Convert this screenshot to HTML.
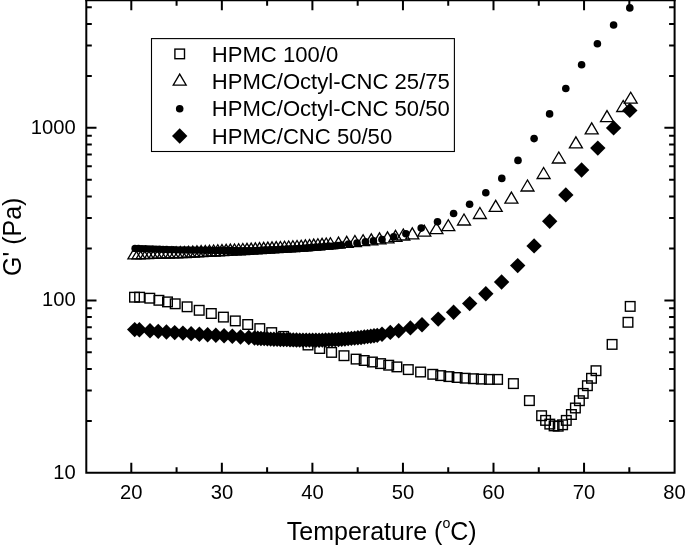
<!DOCTYPE html>
<html><head><meta charset="utf-8"><title>chart</title>
<style>html,body{margin:0;padding:0;background:#fff}body{width:685px;height:548px;overflow:hidden;position:relative;font-family:"Liberation Sans",sans-serif}</style></head>
<body>
<svg width="685" height="548" viewBox="0 0 685 548" style="position:absolute;left:0;top:0;display:block;will-change:transform;filter:grayscale(1)">
<rect width="685" height="548" fill="#fff"/>
<g shape-rendering="geometricPrecision">
<rect x="129.70" y="292.40" width="9.6" height="9.6" fill="none" stroke="#000" stroke-width="1.4"/>
<rect x="134.80" y="292.40" width="9.6" height="9.6" fill="none" stroke="#000" stroke-width="1.4"/>
<rect x="145.00" y="293.40" width="9.6" height="9.6" fill="none" stroke="#000" stroke-width="1.4"/>
<rect x="154.10" y="295.50" width="9.6" height="9.6" fill="none" stroke="#000" stroke-width="1.4"/>
<rect x="162.70" y="297.10" width="9.6" height="9.6" fill="none" stroke="#000" stroke-width="1.4"/>
<rect x="170.40" y="299.00" width="9.6" height="9.6" fill="none" stroke="#000" stroke-width="1.4"/>
<rect x="182.30" y="302.00" width="9.6" height="9.6" fill="none" stroke="#000" stroke-width="1.4"/>
<rect x="194.40" y="305.50" width="9.6" height="9.6" fill="none" stroke="#000" stroke-width="1.4"/>
<rect x="206.50" y="308.70" width="9.6" height="9.6" fill="none" stroke="#000" stroke-width="1.4"/>
<rect x="218.60" y="312.30" width="9.6" height="9.6" fill="none" stroke="#000" stroke-width="1.4"/>
<rect x="230.50" y="316.10" width="9.6" height="9.6" fill="none" stroke="#000" stroke-width="1.4"/>
<rect x="242.90" y="319.70" width="9.6" height="9.6" fill="none" stroke="#000" stroke-width="1.4"/>
<rect x="255.00" y="323.80" width="9.6" height="9.6" fill="none" stroke="#000" stroke-width="1.4"/>
<rect x="266.90" y="327.80" width="9.6" height="9.6" fill="none" stroke="#000" stroke-width="1.4"/>
<rect x="278.80" y="331.60" width="9.6" height="9.6" fill="none" stroke="#000" stroke-width="1.4"/>
<rect x="291.00" y="335.90" width="9.6" height="9.6" fill="none" stroke="#000" stroke-width="1.4"/>
<rect x="303.20" y="340.20" width="9.6" height="9.6" fill="none" stroke="#000" stroke-width="1.4"/>
<rect x="314.90" y="343.70" width="9.6" height="9.6" fill="none" stroke="#000" stroke-width="1.4"/>
<rect x="326.80" y="347.60" width="9.6" height="9.6" fill="none" stroke="#000" stroke-width="1.4"/>
<rect x="339.20" y="350.90" width="9.6" height="9.6" fill="none" stroke="#000" stroke-width="1.4"/>
<rect x="351.30" y="354.30" width="9.6" height="9.6" fill="none" stroke="#000" stroke-width="1.4"/>
<rect x="359.40" y="355.70" width="9.6" height="9.6" fill="none" stroke="#000" stroke-width="1.4"/>
<rect x="367.60" y="357.20" width="9.6" height="9.6" fill="none" stroke="#000" stroke-width="1.4"/>
<rect x="375.80" y="358.80" width="9.6" height="9.6" fill="none" stroke="#000" stroke-width="1.4"/>
<rect x="383.90" y="360.40" width="9.6" height="9.6" fill="none" stroke="#000" stroke-width="1.4"/>
<rect x="392.10" y="362.10" width="9.6" height="9.6" fill="none" stroke="#000" stroke-width="1.4"/>
<rect x="403.50" y="364.80" width="9.6" height="9.6" fill="none" stroke="#000" stroke-width="1.4"/>
<rect x="415.80" y="367.20" width="9.6" height="9.6" fill="none" stroke="#000" stroke-width="1.4"/>
<rect x="428.00" y="369.50" width="9.6" height="9.6" fill="none" stroke="#000" stroke-width="1.4"/>
<rect x="435.90" y="370.80" width="9.6" height="9.6" fill="none" stroke="#000" stroke-width="1.4"/>
<rect x="444.10" y="371.80" width="9.6" height="9.6" fill="none" stroke="#000" stroke-width="1.4"/>
<rect x="452.30" y="372.70" width="9.6" height="9.6" fill="none" stroke="#000" stroke-width="1.4"/>
<rect x="460.40" y="373.40" width="9.6" height="9.6" fill="none" stroke="#000" stroke-width="1.4"/>
<rect x="468.60" y="373.90" width="9.6" height="9.6" fill="none" stroke="#000" stroke-width="1.4"/>
<rect x="476.50" y="374.30" width="9.6" height="9.6" fill="none" stroke="#000" stroke-width="1.4"/>
<rect x="484.60" y="374.60" width="9.6" height="9.6" fill="none" stroke="#000" stroke-width="1.4"/>
<rect x="492.80" y="374.60" width="9.6" height="9.6" fill="none" stroke="#000" stroke-width="1.4"/>
<rect x="508.60" y="378.80" width="9.6" height="9.6" fill="none" stroke="#000" stroke-width="1.4"/>
<rect x="524.60" y="395.80" width="9.6" height="9.6" fill="none" stroke="#000" stroke-width="1.4"/>
<rect x="536.80" y="410.90" width="9.6" height="9.6" fill="none" stroke="#000" stroke-width="1.4"/>
<rect x="540.80" y="415.60" width="9.6" height="9.6" fill="none" stroke="#000" stroke-width="1.4"/>
<rect x="545.00" y="419.30" width="9.6" height="9.6" fill="none" stroke="#000" stroke-width="1.4"/>
<rect x="549.30" y="421.10" width="9.6" height="9.6" fill="none" stroke="#000" stroke-width="1.4"/>
<rect x="553.40" y="421.40" width="9.6" height="9.6" fill="none" stroke="#000" stroke-width="1.4"/>
<rect x="557.80" y="420.00" width="9.6" height="9.6" fill="none" stroke="#000" stroke-width="1.4"/>
<rect x="561.50" y="415.60" width="9.6" height="9.6" fill="none" stroke="#000" stroke-width="1.4"/>
<rect x="566.60" y="409.70" width="9.6" height="9.6" fill="none" stroke="#000" stroke-width="1.4"/>
<rect x="570.60" y="403.20" width="9.6" height="9.6" fill="none" stroke="#000" stroke-width="1.4"/>
<rect x="574.60" y="395.90" width="9.6" height="9.6" fill="none" stroke="#000" stroke-width="1.4"/>
<rect x="578.40" y="388.60" width="9.6" height="9.6" fill="none" stroke="#000" stroke-width="1.4"/>
<rect x="582.60" y="380.90" width="9.6" height="9.6" fill="none" stroke="#000" stroke-width="1.4"/>
<rect x="586.70" y="373.50" width="9.6" height="9.6" fill="none" stroke="#000" stroke-width="1.4"/>
<rect x="591.20" y="365.90" width="9.6" height="9.6" fill="none" stroke="#000" stroke-width="1.4"/>
<rect x="607.30" y="339.60" width="9.6" height="9.6" fill="none" stroke="#000" stroke-width="1.4"/>
<rect x="623.20" y="317.50" width="9.6" height="9.6" fill="none" stroke="#000" stroke-width="1.4"/>
<rect x="625.40" y="301.60" width="9.6" height="9.6" fill="none" stroke="#000" stroke-width="1.4"/>
<path d="M127.90 258.90L140.90 258.90L134.40 247.90Z" fill="none" stroke="#000" stroke-width="1.3" stroke-linejoin="miter"/>
<path d="M132.07 258.79L145.07 258.79L138.57 247.79Z" fill="none" stroke="#000" stroke-width="1.3" stroke-linejoin="miter"/>
<path d="M136.24 258.67L149.24 258.67L142.74 247.67Z" fill="none" stroke="#000" stroke-width="1.3" stroke-linejoin="miter"/>
<path d="M140.41 258.56L153.41 258.56L146.91 247.56Z" fill="none" stroke="#000" stroke-width="1.3" stroke-linejoin="miter"/>
<path d="M144.58 258.44L157.58 258.44L151.08 247.44Z" fill="none" stroke="#000" stroke-width="1.3" stroke-linejoin="miter"/>
<path d="M148.75 258.33L161.75 258.33L155.25 247.33Z" fill="none" stroke="#000" stroke-width="1.3" stroke-linejoin="miter"/>
<path d="M152.92 258.22L165.92 258.22L159.42 247.22Z" fill="none" stroke="#000" stroke-width="1.3" stroke-linejoin="miter"/>
<path d="M157.09 258.10L170.09 258.10L163.59 247.10Z" fill="none" stroke="#000" stroke-width="1.3" stroke-linejoin="miter"/>
<path d="M161.26 257.99L174.26 257.99L167.76 246.99Z" fill="none" stroke="#000" stroke-width="1.3" stroke-linejoin="miter"/>
<path d="M165.43 257.88L178.43 257.88L171.93 246.88Z" fill="none" stroke="#000" stroke-width="1.3" stroke-linejoin="miter"/>
<path d="M169.60 257.76L182.60 257.76L176.10 246.76Z" fill="none" stroke="#000" stroke-width="1.3" stroke-linejoin="miter"/>
<path d="M173.77 257.65L186.77 257.65L180.27 246.65Z" fill="none" stroke="#000" stroke-width="1.3" stroke-linejoin="miter"/>
<path d="M177.94 257.48L190.94 257.48L184.44 246.48Z" fill="none" stroke="#000" stroke-width="1.3" stroke-linejoin="miter"/>
<path d="M182.11 257.26L195.11 257.26L188.61 246.26Z" fill="none" stroke="#000" stroke-width="1.3" stroke-linejoin="miter"/>
<path d="M186.28 257.05L199.28 257.05L192.78 246.05Z" fill="none" stroke="#000" stroke-width="1.3" stroke-linejoin="miter"/>
<path d="M190.45 256.84L203.45 256.84L196.95 245.84Z" fill="none" stroke="#000" stroke-width="1.3" stroke-linejoin="miter"/>
<path d="M194.62 256.63L207.62 256.63L201.12 245.63Z" fill="none" stroke="#000" stroke-width="1.3" stroke-linejoin="miter"/>
<path d="M198.79 256.42L211.79 256.42L205.29 245.42Z" fill="none" stroke="#000" stroke-width="1.3" stroke-linejoin="miter"/>
<path d="M202.96 256.21L215.96 256.21L209.46 245.21Z" fill="none" stroke="#000" stroke-width="1.3" stroke-linejoin="miter"/>
<path d="M207.13 256.00L220.13 256.00L213.63 245.00Z" fill="none" stroke="#000" stroke-width="1.3" stroke-linejoin="miter"/>
<path d="M211.30 255.78L224.30 255.78L217.80 244.78Z" fill="none" stroke="#000" stroke-width="1.3" stroke-linejoin="miter"/>
<path d="M215.47 255.57L228.47 255.57L221.97 244.57Z" fill="none" stroke="#000" stroke-width="1.3" stroke-linejoin="miter"/>
<path d="M219.64 255.36L232.64 255.36L226.14 244.36Z" fill="none" stroke="#000" stroke-width="1.3" stroke-linejoin="miter"/>
<path d="M223.81 255.15L236.81 255.15L230.31 244.15Z" fill="none" stroke="#000" stroke-width="1.3" stroke-linejoin="miter"/>
<path d="M227.98 254.94L240.98 254.94L234.48 243.94Z" fill="none" stroke="#000" stroke-width="1.3" stroke-linejoin="miter"/>
<path d="M232.15 254.73L245.15 254.73L238.65 243.73Z" fill="none" stroke="#000" stroke-width="1.3" stroke-linejoin="miter"/>
<path d="M236.32 254.51L249.32 254.51L242.82 243.51Z" fill="none" stroke="#000" stroke-width="1.3" stroke-linejoin="miter"/>
<path d="M240.49 254.30L253.49 254.30L246.99 243.30Z" fill="none" stroke="#000" stroke-width="1.3" stroke-linejoin="miter"/>
<path d="M244.66 254.09L257.66 254.09L251.16 243.09Z" fill="none" stroke="#000" stroke-width="1.3" stroke-linejoin="miter"/>
<path d="M248.83 253.85L261.83 253.85L255.33 242.85Z" fill="none" stroke="#000" stroke-width="1.3" stroke-linejoin="miter"/>
<path d="M253.00 253.61L266.00 253.61L259.50 242.61Z" fill="none" stroke="#000" stroke-width="1.3" stroke-linejoin="miter"/>
<path d="M257.17 253.37L270.17 253.37L263.67 242.37Z" fill="none" stroke="#000" stroke-width="1.3" stroke-linejoin="miter"/>
<path d="M261.34 253.13L274.34 253.13L267.84 242.13Z" fill="none" stroke="#000" stroke-width="1.3" stroke-linejoin="miter"/>
<path d="M265.51 252.89L278.51 252.89L272.01 241.89Z" fill="none" stroke="#000" stroke-width="1.3" stroke-linejoin="miter"/>
<path d="M269.68 252.65L282.68 252.65L276.18 241.65Z" fill="none" stroke="#000" stroke-width="1.3" stroke-linejoin="miter"/>
<path d="M273.85 252.41L286.85 252.41L280.35 241.41Z" fill="none" stroke="#000" stroke-width="1.3" stroke-linejoin="miter"/>
<path d="M278.02 252.17L291.02 252.17L284.52 241.17Z" fill="none" stroke="#000" stroke-width="1.3" stroke-linejoin="miter"/>
<path d="M282.19 251.93L295.19 251.93L288.69 240.93Z" fill="none" stroke="#000" stroke-width="1.3" stroke-linejoin="miter"/>
<path d="M286.36 251.69L299.36 251.69L292.86 240.69Z" fill="none" stroke="#000" stroke-width="1.3" stroke-linejoin="miter"/>
<path d="M290.53 251.45L303.53 251.45L297.03 240.45Z" fill="none" stroke="#000" stroke-width="1.3" stroke-linejoin="miter"/>
<path d="M294.70 251.21L307.70 251.21L301.20 240.21Z" fill="none" stroke="#000" stroke-width="1.3" stroke-linejoin="miter"/>
<path d="M298.87 250.84L311.87 250.84L305.37 239.84Z" fill="none" stroke="#000" stroke-width="1.3" stroke-linejoin="miter"/>
<path d="M303.04 250.47L316.04 250.47L309.54 239.47Z" fill="none" stroke="#000" stroke-width="1.3" stroke-linejoin="miter"/>
<path d="M307.21 250.10L320.21 250.10L313.71 239.10Z" fill="none" stroke="#000" stroke-width="1.3" stroke-linejoin="miter"/>
<path d="M311.38 249.73L324.38 249.73L317.88 238.73Z" fill="none" stroke="#000" stroke-width="1.3" stroke-linejoin="miter"/>
<path d="M315.55 249.35L328.55 249.35L322.05 238.35Z" fill="none" stroke="#000" stroke-width="1.3" stroke-linejoin="miter"/>
<path d="M319.72 248.99L332.72 248.99L326.22 237.99Z" fill="none" stroke="#000" stroke-width="1.3" stroke-linejoin="miter"/>
<path d="M323.89 248.70L336.89 248.70L330.39 237.70Z" fill="none" stroke="#000" stroke-width="1.3" stroke-linejoin="miter"/>
<path d="M332.00 248.10L345.00 248.10L338.50 237.10Z" fill="none" stroke="#000" stroke-width="1.3" stroke-linejoin="miter"/>
<path d="M340.20 247.30L353.20 247.30L346.70 236.30Z" fill="none" stroke="#000" stroke-width="1.3" stroke-linejoin="miter"/>
<path d="M348.40 246.50L361.40 246.50L354.90 235.50Z" fill="none" stroke="#000" stroke-width="1.3" stroke-linejoin="miter"/>
<path d="M356.60 245.70L369.60 245.70L363.10 234.70Z" fill="none" stroke="#000" stroke-width="1.3" stroke-linejoin="miter"/>
<path d="M364.80 244.90L377.80 244.90L371.30 233.90Z" fill="none" stroke="#000" stroke-width="1.3" stroke-linejoin="miter"/>
<path d="M373.00 243.90L386.00 243.90L379.50 232.90Z" fill="none" stroke="#000" stroke-width="1.3" stroke-linejoin="miter"/>
<path d="M381.00 242.90L394.00 242.90L387.50 231.90Z" fill="none" stroke="#000" stroke-width="1.3" stroke-linejoin="miter"/>
<path d="M389.00 241.40L402.00 241.40L395.50 230.40Z" fill="none" stroke="#000" stroke-width="1.3" stroke-linejoin="miter"/>
<path d="M396.80 240.00L409.80 240.00L403.30 229.00Z" fill="none" stroke="#000" stroke-width="1.3" stroke-linejoin="miter"/>
<path d="M405.80 238.80L418.80 238.80L412.30 227.80Z" fill="none" stroke="#000" stroke-width="1.3" stroke-linejoin="miter"/>
<path d="M417.80 236.20L430.80 236.20L424.30 225.20Z" fill="none" stroke="#000" stroke-width="1.3" stroke-linejoin="miter"/>
<path d="M429.90 233.70L442.90 233.70L436.40 222.70Z" fill="none" stroke="#000" stroke-width="1.3" stroke-linejoin="miter"/>
<path d="M441.80 230.70L454.80 230.70L448.30 219.70Z" fill="none" stroke="#000" stroke-width="1.3" stroke-linejoin="miter"/>
<path d="M457.50 225.00L470.50 225.00L464.00 214.00Z" fill="none" stroke="#000" stroke-width="1.3" stroke-linejoin="miter"/>
<path d="M473.40 218.50L486.40 218.50L479.90 207.50Z" fill="none" stroke="#000" stroke-width="1.3" stroke-linejoin="miter"/>
<path d="M489.20 211.30L502.20 211.30L495.70 200.30Z" fill="none" stroke="#000" stroke-width="1.3" stroke-linejoin="miter"/>
<path d="M504.90 203.10L517.90 203.10L511.40 192.10Z" fill="none" stroke="#000" stroke-width="1.3" stroke-linejoin="miter"/>
<path d="M521.00 191.00L534.00 191.00L527.50 180.00Z" fill="none" stroke="#000" stroke-width="1.3" stroke-linejoin="miter"/>
<path d="M537.10 178.50L550.10 178.50L543.60 167.50Z" fill="none" stroke="#000" stroke-width="1.3" stroke-linejoin="miter"/>
<path d="M552.30 163.00L565.30 163.00L558.80 152.00Z" fill="none" stroke="#000" stroke-width="1.3" stroke-linejoin="miter"/>
<path d="M569.40 147.90L582.40 147.90L575.90 136.90Z" fill="none" stroke="#000" stroke-width="1.3" stroke-linejoin="miter"/>
<path d="M585.20 133.80L598.20 133.80L591.70 122.80Z" fill="none" stroke="#000" stroke-width="1.3" stroke-linejoin="miter"/>
<path d="M600.50 121.60L613.50 121.60L607.00 110.60Z" fill="none" stroke="#000" stroke-width="1.3" stroke-linejoin="miter"/>
<path d="M616.70 111.50L629.70 111.50L623.20 100.50Z" fill="none" stroke="#000" stroke-width="1.3" stroke-linejoin="miter"/>
<path d="M624.20 103.20L637.20 103.20L630.70 92.20Z" fill="none" stroke="#000" stroke-width="1.3" stroke-linejoin="miter"/>
<circle cx="135.00" cy="248.40" r="3.65" fill="#000"/>
<circle cx="138.50" cy="248.52" r="3.65" fill="#000"/>
<circle cx="142.00" cy="248.63" r="3.65" fill="#000"/>
<circle cx="145.50" cy="248.75" r="3.65" fill="#000"/>
<circle cx="149.00" cy="248.87" r="3.65" fill="#000"/>
<circle cx="152.50" cy="248.98" r="3.65" fill="#000"/>
<circle cx="156.00" cy="249.10" r="3.65" fill="#000"/>
<circle cx="159.50" cy="249.22" r="3.65" fill="#000"/>
<circle cx="163.00" cy="249.33" r="3.65" fill="#000"/>
<circle cx="166.50" cy="249.45" r="3.65" fill="#000"/>
<circle cx="170.00" cy="249.57" r="3.65" fill="#000"/>
<circle cx="173.50" cy="249.68" r="3.65" fill="#000"/>
<circle cx="177.00" cy="249.80" r="3.65" fill="#000"/>
<circle cx="180.50" cy="249.91" r="3.65" fill="#000"/>
<circle cx="184.00" cy="249.95" r="3.65" fill="#000"/>
<circle cx="187.50" cy="249.99" r="3.65" fill="#000"/>
<circle cx="191.00" cy="250.04" r="3.65" fill="#000"/>
<circle cx="194.50" cy="250.08" r="3.65" fill="#000"/>
<circle cx="198.00" cy="250.12" r="3.65" fill="#000"/>
<circle cx="201.50" cy="250.17" r="3.65" fill="#000"/>
<circle cx="205.00" cy="250.21" r="3.65" fill="#000"/>
<circle cx="208.50" cy="250.26" r="3.65" fill="#000"/>
<circle cx="212.00" cy="250.30" r="3.65" fill="#000"/>
<circle cx="215.50" cy="250.34" r="3.65" fill="#000"/>
<circle cx="219.00" cy="250.39" r="3.65" fill="#000"/>
<circle cx="222.50" cy="250.42" r="3.65" fill="#000"/>
<circle cx="226.00" cy="250.44" r="3.65" fill="#000"/>
<circle cx="229.50" cy="250.46" r="3.65" fill="#000"/>
<circle cx="233.00" cy="250.48" r="3.65" fill="#000"/>
<circle cx="236.50" cy="250.51" r="3.65" fill="#000"/>
<circle cx="240.00" cy="250.53" r="3.65" fill="#000"/>
<circle cx="243.50" cy="250.55" r="3.65" fill="#000"/>
<circle cx="247.00" cy="250.57" r="3.65" fill="#000"/>
<circle cx="250.50" cy="250.60" r="3.65" fill="#000"/>
<circle cx="254.00" cy="250.47" r="3.65" fill="#000"/>
<circle cx="257.50" cy="250.32" r="3.65" fill="#000"/>
<circle cx="261.00" cy="250.17" r="3.65" fill="#000"/>
<circle cx="264.50" cy="250.02" r="3.65" fill="#000"/>
<circle cx="268.00" cy="249.87" r="3.65" fill="#000"/>
<circle cx="271.50" cy="249.72" r="3.65" fill="#000"/>
<circle cx="275.00" cy="249.57" r="3.65" fill="#000"/>
<circle cx="278.50" cy="249.42" r="3.65" fill="#000"/>
<circle cx="282.00" cy="249.27" r="3.65" fill="#000"/>
<circle cx="285.50" cy="249.12" r="3.65" fill="#000"/>
<circle cx="289.00" cy="248.97" r="3.65" fill="#000"/>
<circle cx="292.50" cy="248.82" r="3.65" fill="#000"/>
<circle cx="296.00" cy="248.67" r="3.65" fill="#000"/>
<circle cx="299.50" cy="248.52" r="3.65" fill="#000"/>
<circle cx="303.00" cy="248.28" r="3.65" fill="#000"/>
<circle cx="306.50" cy="248.02" r="3.65" fill="#000"/>
<circle cx="310.00" cy="247.76" r="3.65" fill="#000"/>
<circle cx="313.50" cy="247.50" r="3.65" fill="#000"/>
<circle cx="317.00" cy="247.24" r="3.65" fill="#000"/>
<circle cx="320.50" cy="246.98" r="3.65" fill="#000"/>
<circle cx="324.00" cy="246.72" r="3.65" fill="#000"/>
<circle cx="327.50" cy="246.46" r="3.65" fill="#000"/>
<circle cx="331.00" cy="246.20" r="3.65" fill="#000"/>
<circle cx="334.50" cy="245.94" r="3.65" fill="#000"/>
<circle cx="338.00" cy="245.48" r="3.65" fill="#000"/>
<circle cx="341.50" cy="244.99" r="3.65" fill="#000"/>
<circle cx="348.50" cy="244.00" r="3.8" fill="#000"/>
<circle cx="357.00" cy="243.00" r="3.8" fill="#000"/>
<circle cx="365.40" cy="241.90" r="3.8" fill="#000"/>
<circle cx="373.40" cy="240.90" r="3.8" fill="#000"/>
<circle cx="382.00" cy="239.60" r="3.8" fill="#000"/>
<circle cx="393.70" cy="236.90" r="3.8" fill="#000"/>
<circle cx="405.90" cy="233.70" r="3.8" fill="#000"/>
<circle cx="421.20" cy="228.10" r="3.8" fill="#000"/>
<circle cx="437.50" cy="221.80" r="3.8" fill="#000"/>
<circle cx="453.60" cy="213.50" r="3.8" fill="#000"/>
<circle cx="469.60" cy="204.20" r="3.8" fill="#000"/>
<circle cx="485.80" cy="192.70" r="3.8" fill="#000"/>
<circle cx="501.80" cy="178.40" r="3.8" fill="#000"/>
<circle cx="518.00" cy="160.40" r="3.8" fill="#000"/>
<circle cx="534.10" cy="138.60" r="3.8" fill="#000"/>
<circle cx="549.60" cy="113.90" r="3.8" fill="#000"/>
<circle cx="565.80" cy="88.50" r="3.8" fill="#000"/>
<circle cx="581.60" cy="64.80" r="3.8" fill="#000"/>
<circle cx="597.40" cy="43.80" r="3.8" fill="#000"/>
<circle cx="613.60" cy="25.00" r="3.8" fill="#000"/>
<circle cx="629.80" cy="7.90" r="3.8" fill="#000"/>
<path d="M127.00 329.60L134.70 321.90L142.40 329.60L134.70 337.30Z" fill="#000"/>
<path d="M131.70 329.80L139.40 322.10L147.10 329.80L139.40 337.50Z" fill="#000"/>
<path d="M142.30 330.74L150.00 323.04L157.70 330.74L150.00 338.44Z" fill="#000"/>
<path d="M150.53 331.35L158.23 323.65L165.93 331.35L158.23 339.05Z" fill="#000"/>
<path d="M158.76 331.96L166.46 324.26L174.16 331.96L166.46 339.66Z" fill="#000"/>
<path d="M166.99 332.58L174.69 324.88L182.39 332.58L174.69 340.28Z" fill="#000"/>
<path d="M175.22 333.11L182.92 325.41L190.62 333.11L182.92 340.81Z" fill="#000"/>
<path d="M183.45 333.65L191.15 325.95L198.85 333.65L191.15 341.35Z" fill="#000"/>
<path d="M191.68 334.18L199.38 326.48L207.08 334.18L199.38 341.88Z" fill="#000"/>
<path d="M199.91 334.72L207.61 327.02L215.31 334.72L207.61 342.42Z" fill="#000"/>
<path d="M208.14 335.25L215.84 327.55L223.54 335.25L215.84 342.95Z" fill="#000"/>
<path d="M216.37 335.79L224.07 328.09L231.77 335.79L224.07 343.49Z" fill="#000"/>
<path d="M224.60 336.32L232.30 328.62L240.00 336.32L232.30 344.02Z" fill="#000"/>
<path d="M232.83 336.93L240.53 329.23L248.23 336.93L240.53 344.63Z" fill="#000"/>
<path d="M241.06 337.53L248.76 329.83L256.46 337.53L248.76 345.23Z" fill="#000"/>
<path d="M246.80 337.96L254.50 330.26L262.20 337.96L254.50 345.66Z" fill="#000"/>
<path d="M250.03 338.20L257.73 330.50L265.43 338.20L257.73 345.90Z" fill="#000"/>
<path d="M253.26 338.43L260.96 330.73L268.66 338.43L260.96 346.13Z" fill="#000"/>
<path d="M256.49 338.67L264.19 330.97L271.89 338.67L264.19 346.37Z" fill="#000"/>
<path d="M259.72 338.91L267.42 331.21L275.12 338.91L267.42 346.61Z" fill="#000"/>
<path d="M262.95 339.12L270.65 331.42L278.35 339.12L270.65 346.82Z" fill="#000"/>
<path d="M266.18 339.23L273.88 331.53L281.58 339.23L273.88 346.93Z" fill="#000"/>
<path d="M269.41 339.34L277.11 331.64L284.81 339.34L277.11 347.04Z" fill="#000"/>
<path d="M272.64 339.44L280.34 331.74L288.04 339.44L280.34 347.14Z" fill="#000"/>
<path d="M275.87 339.55L283.57 331.85L291.27 339.55L283.57 347.25Z" fill="#000"/>
<path d="M279.10 339.66L286.80 331.96L294.50 339.66L286.80 347.36Z" fill="#000"/>
<path d="M282.33 339.77L290.03 332.07L297.73 339.77L290.03 347.47Z" fill="#000"/>
<path d="M285.56 339.88L293.26 332.18L300.96 339.88L293.26 347.58Z" fill="#000"/>
<path d="M288.79 339.98L296.49 332.28L304.19 339.98L296.49 347.68Z" fill="#000"/>
<path d="M292.02 340.09L299.72 332.39L307.42 340.09L299.72 347.79Z" fill="#000"/>
<path d="M295.25 340.11L302.95 332.41L310.65 340.11L302.95 347.81Z" fill="#000"/>
<path d="M298.48 340.13L306.18 332.43L313.88 340.13L306.18 347.83Z" fill="#000"/>
<path d="M301.71 340.15L309.41 332.45L317.11 340.15L309.41 347.85Z" fill="#000"/>
<path d="M304.94 340.16L312.64 332.46L320.34 340.16L312.64 347.86Z" fill="#000"/>
<path d="M308.17 340.18L315.87 332.48L323.57 340.18L315.87 347.88Z" fill="#000"/>
<path d="M311.40 340.20L319.10 332.50L326.80 340.20L319.10 347.90Z" fill="#000"/>
<path d="M314.63 340.11L322.33 332.41L330.03 340.11L322.33 347.81Z" fill="#000"/>
<path d="M317.86 339.98L325.56 332.28L333.26 339.98L325.56 347.68Z" fill="#000"/>
<path d="M321.09 339.85L328.79 332.15L336.49 339.85L328.79 347.55Z" fill="#000"/>
<path d="M324.32 339.72L332.02 332.02L339.72 339.72L332.02 347.42Z" fill="#000"/>
<path d="M327.55 339.59L335.25 331.89L342.95 339.59L335.25 347.29Z" fill="#000"/>
<path d="M330.78 339.46L338.48 331.76L346.18 339.46L338.48 347.16Z" fill="#000"/>
<path d="M334.01 339.25L341.71 331.55L349.41 339.25L341.71 346.95Z" fill="#000"/>
<path d="M337.24 338.96L344.94 331.26L352.64 338.96L344.94 346.66Z" fill="#000"/>
<path d="M340.47 338.66L348.17 330.96L355.87 338.66L348.17 346.36Z" fill="#000"/>
<path d="M343.70 338.37L351.40 330.67L359.10 338.37L351.40 346.07Z" fill="#000"/>
<path d="M346.93 338.08L354.63 330.38L362.33 338.08L354.63 345.78Z" fill="#000"/>
<path d="M350.16 337.79L357.86 330.09L365.56 337.79L357.86 345.49Z" fill="#000"/>
<path d="M353.39 337.46L361.09 329.76L368.79 337.46L361.09 345.16Z" fill="#000"/>
<path d="M356.62 337.04L364.32 329.34L372.02 337.04L364.32 344.74Z" fill="#000"/>
<path d="M359.85 336.62L367.55 328.92L375.25 336.62L367.55 344.32Z" fill="#000"/>
<path d="M363.08 336.20L370.78 328.50L378.48 336.20L370.78 343.90Z" fill="#000"/>
<path d="M366.31 335.78L374.01 328.08L381.71 335.78L374.01 343.48Z" fill="#000"/>
<path d="M369.54 335.36L377.24 327.66L384.94 335.36L377.24 343.06Z" fill="#000"/>
<path d="M374.30 334.20L382.00 326.50L389.70 334.20L382.00 341.90Z" fill="#000"/>
<path d="M382.60 332.40L390.30 324.70L398.00 332.40L390.30 340.10Z" fill="#000"/>
<path d="M391.00 330.70L398.70 323.00L406.40 330.70L398.70 338.40Z" fill="#000"/>
<path d="M402.70 327.90L410.40 320.20L418.10 327.90L410.40 335.60Z" fill="#000"/>
<path d="M414.30 324.70L422.00 317.00L429.70 324.70L422.00 332.40Z" fill="#000"/>
<path d="M430.50 319.10L438.20 311.40L445.90 319.10L438.20 326.80Z" fill="#000"/>
<path d="M445.90 312.20L453.60 304.50L461.30 312.20L453.60 319.90Z" fill="#000"/>
<path d="M462.00 303.60L469.70 295.90L477.40 303.60L469.70 311.30Z" fill="#000"/>
<path d="M478.10 293.80L485.80 286.10L493.50 293.80L485.80 301.50Z" fill="#000"/>
<path d="M493.90 282.00L501.60 274.30L509.30 282.00L501.60 289.70Z" fill="#000"/>
<path d="M510.00 265.60L517.70 257.90L525.40 265.60L517.70 273.30Z" fill="#000"/>
<path d="M526.40 245.90L534.10 238.20L541.80 245.90L534.10 253.60Z" fill="#000"/>
<path d="M542.00 221.20L549.70 213.50L557.40 221.20L549.70 228.90Z" fill="#000"/>
<path d="M558.10 194.90L565.80 187.20L573.50 194.90L565.80 202.60Z" fill="#000"/>
<path d="M573.90 170.00L581.60 162.30L589.30 170.00L581.60 177.70Z" fill="#000"/>
<path d="M590.10 148.10L597.80 140.40L605.50 148.10L597.80 155.80Z" fill="#000"/>
<path d="M605.90 127.90L613.60 120.20L621.30 127.90L613.60 135.60Z" fill="#000"/>
<path d="M622.10 110.40L629.80 102.70L637.50 110.40L629.80 118.10Z" fill="#000"/>
</g>
<g stroke="#000" stroke-width="2.0" fill="none" stroke-linecap="butt">
<path d="M86.3 0V472.85H674.6V0"/>
<path d="M85.3 0.1H675.6" stroke-width="2.2"/>
<path d="M131.30 472.85v-10.1 M131.30 0.1v10.1 M176.58 472.85v-5.6 M176.58 0.1v5.6 M221.85 472.85v-10.1 M221.85 0.1v10.1 M267.12 472.85v-5.6 M267.12 0.1v5.6 M312.40 472.85v-10.1 M312.40 0.1v10.1 M357.68 472.85v-5.6 M357.68 0.1v5.6 M402.95 472.85v-10.1 M402.95 0.1v10.1 M448.23 472.85v-5.6 M448.23 0.1v5.6 M493.50 472.85v-10.1 M493.50 0.1v10.1 M538.77 472.85v-5.6 M538.77 0.1v5.6 M584.05 472.85v-10.1 M584.05 0.1v10.1 M629.33 472.85v-5.6 M629.33 0.1v5.6"/>
<path d="M86.3 421.01h5.5 M674.6 421.01h-5.5 M86.3 390.62h5.5 M674.6 390.62h-5.5 M86.3 369.06h5.5 M674.6 369.06h-5.5 M86.3 352.34h5.5 M674.6 352.34h-5.5 M86.3 338.68h5.5 M674.6 338.68h-5.5 M86.3 327.13h5.5 M674.6 327.13h-5.5 M86.3 317.12h5.5 M674.6 317.12h-5.5 M86.3 308.30h5.5 M674.6 308.30h-5.5 M86.3 300.40h10.2 M674.6 300.40h-10.2 M86.3 248.46h5.5 M674.6 248.46h-5.5 M86.3 218.07h5.5 M674.6 218.07h-5.5 M86.3 196.51h5.5 M674.6 196.51h-5.5 M86.3 179.79h5.5 M674.6 179.79h-5.5 M86.3 166.13h5.5 M674.6 166.13h-5.5 M86.3 154.58h5.5 M674.6 154.58h-5.5 M86.3 144.57h5.5 M674.6 144.57h-5.5 M86.3 135.75h5.5 M674.6 135.75h-5.5 M86.3 127.85h10.2 M674.6 127.85h-10.2 M86.3 75.91h5.5 M674.6 75.91h-5.5 M86.3 45.52h5.5 M674.6 45.52h-5.5 M86.3 23.96h5.5 M674.6 23.96h-5.5 M86.3 7.24h5.5 M674.6 7.24h-5.5"/>
</g>
<rect x="151.5" y="38.6" width="302.9" height="112.9" fill="#fff" stroke="#000" stroke-width="1.1"/>
<rect x="174.90" y="49.10" width="9.6" height="9.6" fill="none" stroke="#000" stroke-width="1.4"/>
<path d="M173.20 85.10L186.20 85.10L179.70 74.10Z" fill="none" stroke="#000" stroke-width="1.3" stroke-linejoin="miter"/>
<circle cx="179.70" cy="108.80" r="3.8" fill="#000"/>
<path d="M172.00 136.00L179.70 128.30L187.40 136.00L179.70 143.70Z" fill="#000"/>
<g font-family="Liberation Sans, sans-serif" fill="#000">
<text x="211.7" y="61.5" font-size="22.1">HPMC 100/0</text>
<text x="211.7" y="88.8" font-size="22.1">HPMC/Octyl-CNC 25/75</text>
<text x="211.7" y="116.2" font-size="22.1">HPMC/Octyl-CNC 50/50</text>
<text x="211.7" y="143.6" font-size="22.1">HPMC/CNC 50/50</text>
<text x="131.3" y="498.8" font-size="20.2" text-anchor="middle">20</text>
<text x="221.9" y="498.8" font-size="20.2" text-anchor="middle">30</text>
<text x="312.4" y="498.8" font-size="20.2" text-anchor="middle">40</text>
<text x="402.9" y="498.8" font-size="20.2" text-anchor="middle">50</text>
<text x="493.5" y="498.8" font-size="20.2" text-anchor="middle">60</text>
<text x="584.0" y="498.8" font-size="20.2" text-anchor="middle">70</text>
<text x="674.6" y="498.8" font-size="20.2" text-anchor="middle">80</text>
<text x="75.7" y="478.9" font-size="20.2" text-anchor="end">10</text>
<text x="75.7" y="306.4" font-size="20.2" text-anchor="end">100</text>
<text x="75.7" y="133.8" font-size="20.2" text-anchor="end">1000</text>
<text x="286.8" y="540.4" font-size="25">Temperature (<tspan font-size="14.2" dy="-12">o</tspan><tspan dy="12">C)</tspan></text>
<text transform="translate(20.8,276) rotate(-90)" font-size="25">G' (Pa)</text>
</g>
</svg>
</body></html>
